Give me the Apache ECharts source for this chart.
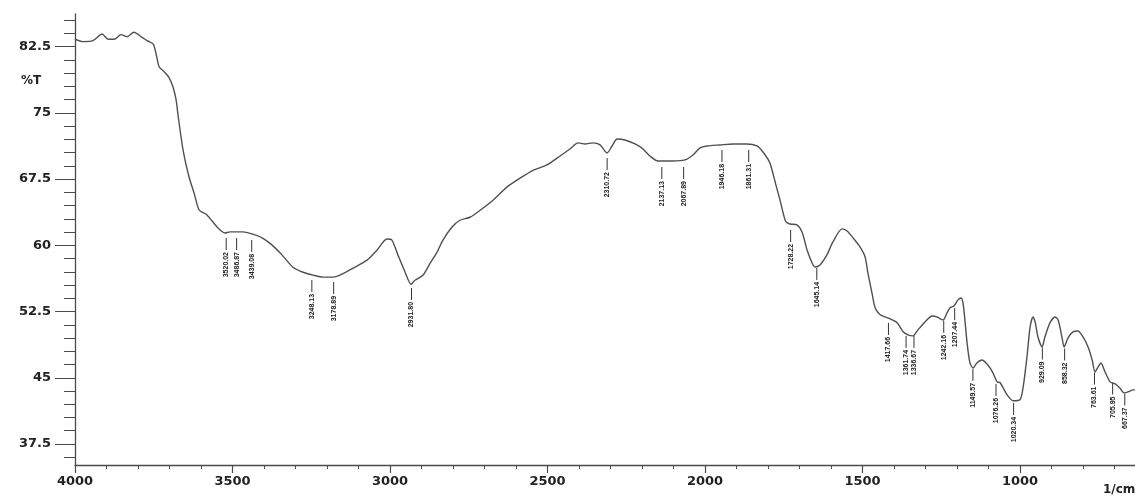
<!DOCTYPE html>
<html><head><meta charset="utf-8">
<script src="https://cdn.jsdelivr.net/npm/echarts@6/dist/echarts.min.js"></script>
<style>html,body{margin:0;padding:0;background:#fff}#c{width:1135px;height:496px}</style>
</head><body><div id="c"></div>
<script>
// Spectrum: wavenumber (1/cm) and %T
const wavenumbers = [4000,3975,3943,3914,3895,3873,3854,3835,3813,3787,3771,3752,3743,3733,3717,3702,3689,3679,3673,3657,3638,3622,3606,3581,3549,3524,3508,3467,3438,3406,3375,3343,3308,3276,3244,3213,3181,3159,3117,3073,3041,3010,2994,2975,2952,2933,2921,2895,2873,2851,2832,2803,2778,2746,2714,2673,2629,2587,2546,2502,2460,2429,2403,2381,2356,2333,2311,2295,2279,2254,2222,2197,2175,2149,2102,2064,2038,2016,1994,1952,1911,1867,1835,1816,1794,1775,1762,1752,1743,1730,1708,1692,1676,1660,1651,1635,1613,1594,1565,1549,1530,1508,1492,1483,1470,1460,1444,1422,1406,1390,1371,1356,1340,1324,1302,1279,1264,1244,1232,1222,1210,1197,1187,1181,1175,1168,1159,1149,1137,1121,1102,1086,1073,1063,1041,1022,1000,990,978,968,959,952,943,930,921,905,889,879,867,860,848,832,816,800,784,771,762,752,743,730,714,698,683,670,657,641,632];
const transmittance = [83.34,83.07,83.18,83.94,83.34,83.37,83.86,83.63,84.13,83.56,83.18,82.81,81.75,80.23,79.67,79.03,77.97,76.46,74.76,70.80,67.74,65.93,64.00,63.44,62.08,61.40,61.52,61.52,61.29,60.84,60.05,58.92,57.52,56.95,56.63,56.40,56.40,56.63,57.42,58.32,59.47,60.71,60.60,58.92,56.95,55.59,56.04,56.63,57.95,59.20,60.60,62.08,62.84,63.18,63.97,65.11,66.59,67.61,68.50,69.10,70.12,70.91,71.60,71.48,71.60,71.37,70.46,71.25,72.05,71.93,71.48,70.91,70.12,69.55,69.55,69.67,70.23,71.03,71.25,71.37,71.48,71.48,71.25,70.57,69.33,66.84,65.14,63.66,62.65,62.42,62.31,61.52,59.47,58.00,57.55,57.78,58.92,60.38,61.86,61.63,60.84,59.82,58.70,56.88,54.62,52.92,52.13,51.82,51.57,51.23,50.21,49.85,49.74,50.42,51.32,52.00,51.89,51.55,52.34,52.92,53.13,53.82,54.04,53.47,51.55,48.94,46.68,46.11,46.68,47.02,46.45,45.56,44.54,44.43,43.06,42.39,42.50,43.96,47.36,50.76,51.89,51.32,49.62,48.49,49.62,51.21,51.89,51.55,49.62,48.49,49.50,50.19,50.30,49.62,48.49,47.02,45.66,46.23,46.68,45.66,44.54,44.31,43.85,43.29,43.40,43.63,43.63];

// Peak labels
const peakLabels = ['3520.02','3486.87','3439.08','3248.13','3178.89','2931.80','2310.72','2137.13','2067.89','1946.18','1861.31','1728.22','1645.14','1417.66','1361.74','1336.67','1242.16','1207.44','1149.57','1076.26','1020.34','929.09','858.32','763.61','705.95','667.37'];
const peakWavenumbers = [3520.02,3486.87,3439.08,3248.13,3178.89,2931.80,2310.72,2137.13,2067.89,1946.18,1861.31,1728.22,1645.14,1417.66,1361.74,1336.67,1242.16,1207.44,1149.57,1076.26,1020.34,929.09,858.32,763.61,705.95,667.37];
const peakMarkT = [60.83,60.83,60.61,56.08,55.85,55.17,69.89,68.87,68.87,70.80,70.80,61.74,57.44,51.21,49.74,49.74,51.44,52.91,46.00,44.30,42.15,48.42,48.31,45.59,44.46,43.21];

// Axis ticks
const xMajorTicks = [4000,3500,3000,2500,2000,1500,1000];
const xMinorTicks = [3900,3800,3700,3600,3400,3300,3200,3100,2900,2800,2700,2600,2400,2300,2200,2100,1900,1800,1700,1600,1400,1300,1200,1100,900,800,700];
const yMajorTicks = [37.5,45,52.5,60,67.5,75,82.5];
const yMinorTicks = [36,39,40.5,42,43.5,46.5,48,49.5,51,54,55.5,57,58.5,61.5,63,64.5,66,69,70.5,72,73.5,76.5,78,79.5,81,84,85.5];

const axisColor = '#4a4a4a';
const labelFont = {color:'#222', fontFamily:'DejaVu Sans', fontWeight:'bold', fontSize:13};
const plain = v => String(v);

const chart = echarts.init(document.getElementById('c'), null, {renderer:'canvas'});
const xBase = {type:'value', inverse:true, min:635, max:4000, position:'bottom', splitLine:{show:false}};
const yBase = {type:'value', min:35.12, max:86.2, position:'left', splitLine:{show:false}};
chart.setOption({
  animation:false,
  backgroundColor:'#fff',
  grid:{left:75, right:0, top:14, bottom:31, containLabel:false},
  xAxis:[
    Object.assign({}, xBase, {
      axisLine:{show:true, lineStyle:{color:axisColor, width:1.3}},
      axisTick:{show:true, inside:false, length:8, customValues:xMajorTicks, lineStyle:{color:axisColor, width:1.2}},
      axisLabel:Object.assign({show:true, margin:10, customValues:xMajorTicks, formatter:plain}, labelFont)
    }),
    Object.assign({}, xBase, {
      axisLine:{show:false},
      axisTick:{show:true, inside:false, length:4, customValues:xMinorTicks, lineStyle:{color:axisColor, width:1}},
      axisLabel:{show:false}
    })
  ],
  yAxis:[
    Object.assign({}, yBase, {
      axisLine:{show:true, lineStyle:{color:axisColor, width:1.3}},
      axisTick:{show:true, inside:false, length:20, customValues:yMajorTicks, lineStyle:{color:axisColor, width:1}},
      axisLabel:Object.assign({show:true, margin:24, customValues:yMajorTicks, formatter:plain}, labelFont)
    }),
    Object.assign({}, yBase, {
      axisLine:{show:false},
      axisTick:{show:true, inside:false, length:11, customValues:yMinorTicks, lineStyle:{color:axisColor, width:1}},
      axisLabel:{show:false}
    })
  ],
  graphic:[
    {type:'text', left:21, top:75, style:{text:'%T', fill:'#222', font:'bold 12px "DejaVu Sans"'}},
    {type:'text', left:1103, top:484, style:{text:'1/cm', fill:'#222', font:'bold 12px "DejaVu Sans"'}}
  ],
  series:[
    {
      type:'line', xAxisIndex:0, yAxisIndex:0,
      data:wavenumbers.map((w,i)=>[w, transmittance[i]]),
      showSymbol:false, symbol:'none', smooth:0.25,
      lineStyle:{color:'#505050', width:1.4},
      clip:true
    },
    {
      type:'custom', xAxisIndex:0, yAxisIndex:0, clip:false,
      data:peakWavenumbers.map((w,i)=>[w, peakMarkT[i]]),
      renderItem:function(params, api){
        const p = api.coord([api.value(0), api.value(1)]);
        const label = peakLabels[params.dataIndex];
        return {type:'group', children:[
          {type:'line', shape:{x1:p[0], y1:p[1], x2:p[0], y2:p[1]+12}, style:{stroke:'#333', lineWidth:1}},
          {type:'text', x:p[0], y:p[1]+14, rotation:Math.PI/2,
           style:{text:label, fill:'#222', font:'bold 7px "Liberation Sans"', align:'right', verticalAlign:'middle'}}
        ]};
      }
    }
  ]
});
</script></body></html>
